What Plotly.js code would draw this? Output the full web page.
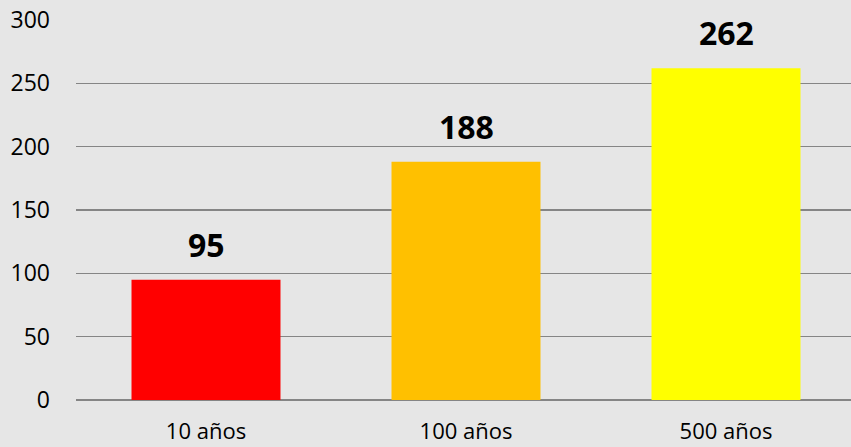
<!DOCTYPE html>
<html>
<head>
<meta charset="utf-8">
<script src="https://cdn.plot.ly/plotly-3.0.1.min.js"></script>
<style>
html,body{margin:0;padding:0;overflow:hidden;background:#e6e6e6;}
#chart{width:851px;height:447px;}
</style>
</head>
<body>
<div id="chart"></div>
<script>
const categories = ["10 años", "100 años", "500 años"];
const values = [95, 188, 262];
const barColors = ["#ff0000", "#ffc000", "#ffff00"];
const yTicks = [0, 50, 100, 150, 200, 250, 300];

const trace = {
  type: "bar",
  x: categories,
  y: values,
  marker: {color: barColors, line: {width: 0}},
  hoverinfo: "none"
};

const annotations = categories.map((c, i) => ({
  x: c, y: values[i], xref: "x", yref: "y",
  text: String(values[i]),
  showarrow: false,
  yanchor: "bottom",
  yshift: 12,
  font: {family: "Open Sans", size: 32, color: "#000", weight: "bold"}
}));

const layout = {
  width: 856,
  height: 447,
  margin: {l: 75.5, r: 0, t: 20, b: 47},
  paper_bgcolor: "#e6e6e6",
  plot_bgcolor: "#e6e6e6",
  bargap: 0.427,
  showlegend: false,
  font: {family: "Open Sans", color: "#000"},
  xaxis: {
    type: "category",
    range: [-0.5, 2.5],
    showgrid: false,
    showline: false,
    zeroline: false,
    ticks: "",
    tickfont: {size: 22, color: "#000"},
    ticklabelstandoff: 16
  },
  yaxis: {
    range: [0, 300],
    tickvals: yTicks,
    ticktext: yTicks.map(String),
    showgrid: true,
    gridcolor: "#858585",
    gridwidth: 1.6,
    zeroline: true,
    zerolinecolor: "#858585",
    zerolinewidth: 1.6,
    showline: false,
    ticks: "",
    tickfont: {size: 23, color: "#000"},
    ticklabelstandoff: 25
  },
  annotations: annotations
};

Plotly.newPlot("chart", [trace], layout, {displayModeBar: false, staticPlot: true});
</script>
</body>
</html>
